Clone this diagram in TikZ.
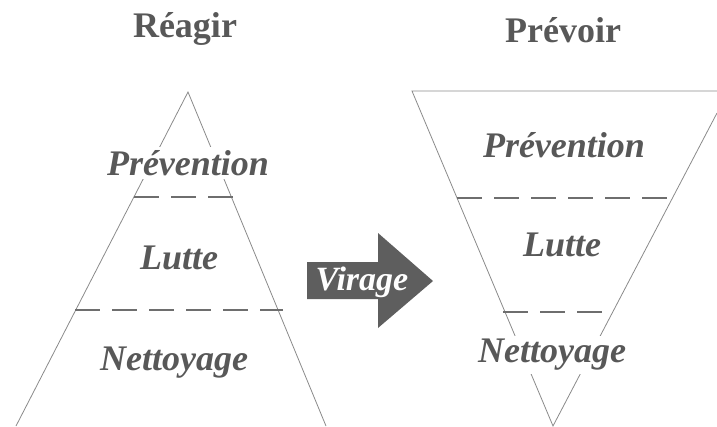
\documentclass[tikz,border=0pt]{standalone}
\usepackage{fontspec}
\setmainfont{Liberation Serif}
\definecolor{txtgray}{HTML}{585858}
\definecolor{edgegray}{HTML}{8A8A8A}
\definecolor{dashgray}{HTML}{6E6E6E}
\definecolor{arrowgray}{HTML}{5E5E5E}
\tikzset{
  title/.style={text=txtgray, font=\fontsize{36}{40}\selectfont\bfseries, inner sep=0pt},
  level/.style={text=txtgray, fill=white, font=\fontsize{36}{40}\selectfont\bfseries\itshape, inner sep=3pt},
  edge/.style={draw=edgegray, line width=0.8pt},
  divider/.style={draw=dashgray, line width=2pt, dash pattern=on 25pt off 12pt},
  bigarrow/.style={fill=arrowgray, draw=none},
  arrowtext/.style={text=white, font=\fontsize{34}{38}\selectfont\bfseries\itshape, inner sep=0pt}
}
\begin{document}
\begin{tikzpicture}[x=1pt,y=-1pt]
\useasboundingbox (0,0) rectangle (717,426);
% left pyramid
\coordinate (LA) at (188,92);
\coordinate (LBL) at (16,426);
\coordinate (LBR) at (326,426);
\draw[edge] (LBL) -- (LA) -- (LBR);
\coordinate (LD1a) at (134,197);
\coordinate (LD1b) at (233,197);
\coordinate (LD2a) at (75,310);
\coordinate (LD2b) at (283,310);
\draw[divider] (LD1a) -- (LD1b);
\draw[divider] (LD2a) -- (LD2b);
% right inverted pyramid
\coordinate (RTL) at (412,91);
\coordinate (RTR) at (717,91);
\coordinate (RRE) at (717,113);
\coordinate (RA) at (553,426);
\draw[edge] (RTR) -- (RTL) -- (RA) -- (RRE);
\coordinate (RD1a) at (457,198);
\coordinate (RD1b) at (673,198);
\coordinate (RD2a) at (503,312);
\coordinate (RD2b) at (612,312);
\draw[divider] (RD1a) -- (RD1b);
\draw[divider] (RD2a) -- (RD2b);
% titles
\node[title] (reagir) at (185,29) {Réagir};
\node[title] (prevoir) at (563,30) {Prévoir};
% left labels
\node[level] (lprev) at (188,163) {Prévention};
\node[level] (llutte) at (179,258) {Lutte};
\node[level] (lnett) at (174,363) {Nettoyage};
% right labels
\node[level] (rprev) at (564,145) {Prévention};
\node[level] (rlutte) at (562,245) {Lutte};
\node[level] (rnett) at (552,355) {Nettoyage};
% arrow
\fill[bigarrow] (307,262) -- (378,262) -- (378,233) -- (433,281) -- (378,328) -- (378,299) -- (307,299) -- cycle;
\node[arrowtext] (virage) at (362,282) {Virage};
\end{tikzpicture}
\end{document}
